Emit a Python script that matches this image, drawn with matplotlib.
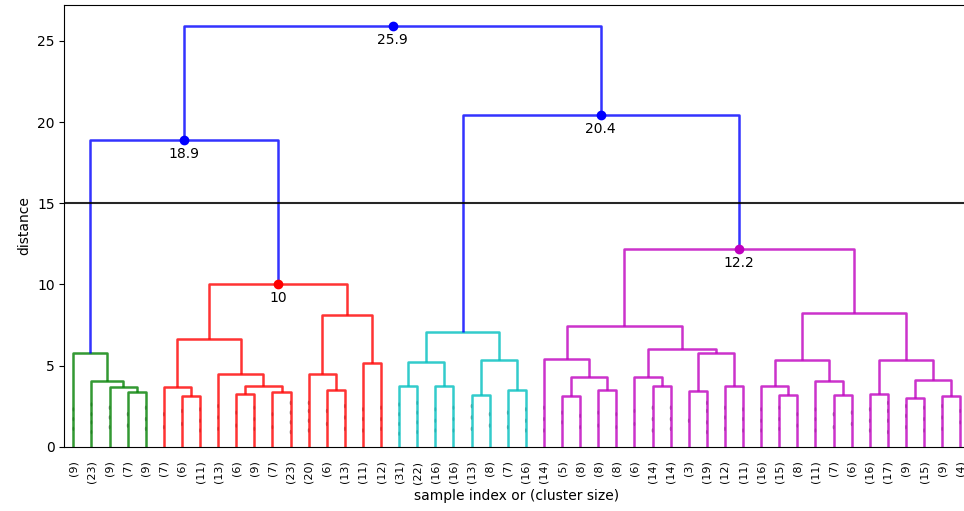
import matplotlib
matplotlib.use("Agg")
import matplotlib.pyplot as plt
from matplotlib.patches import Ellipse

# cluster sizes of the 50 shown (truncated) leaves, left to right
leaf_sizes = [9, 23, 9, 7, 9, 7, 6, 11, 13, 6, 9, 7, 23, 20, 6, 13, 11, 12,
              31, 22, 16, 16, 13, 8, 7, 16, 14, 5, 8, 8, 8, 6, 14, 14, 3, 19,
              12, 11, 16, 15, 8, 11, 7, 6, 16, 17, 9, 15, 9, 4]

# linkage rows: (left id, right id, distance); new clusters get ids 50, 51, ...
merges = [
    (3, 4, 3.38), (2, 50, 3.66), (1, 51, 4.07), (0, 52, 5.78),
    (6, 7, 3.15), (5, 54, 3.66), (9, 10, 3.27), (11, 12, 3.38),
    (56, 57, 3.77), (8, 58, 4.49), (55, 59, 6.66), (14, 15, 3.48),
    (13, 61, 4.49), (16, 17, 5.16), (62, 63, 8.14), (60, 64, 10.02),
    (18, 19, 3.72), (20, 21, 3.72), (66, 67, 5.23), (22, 23, 3.21),
    (24, 25, 3.52), (69, 70, 5.33), (68, 71, 7.07),
    (27, 28, 3.11), (29, 30, 3.52), (73, 74, 4.29), (26, 75, 5.43),
    (32, 33, 3.72), (31, 77, 4.29), (34, 35, 3.46), (36, 37, 3.77),
    (79, 80, 5.78), (78, 81, 5.99), (76, 82, 7.41),
    (39, 40, 3.21), (38, 84, 3.77), (42, 43, 3.21), (41, 86, 4.07),
    (85, 87, 5.37), (44, 45, 3.25), (46, 47, 3.0), (48, 49, 3.1),
    (90, 91, 4.14), (89, 92, 5.37), (88, 93, 8.25), (83, 94, 12.2),
    (53, 65, 18.9), (72, 95, 20.42), (96, 97, 25.92),
]

# heights of the merges hidden inside each truncated leaf
contraction_heights = [
    [1.1, 1.7, 2.3], [0.9, 1.5, 2.0, 2.6], [1.2, 1.8, 2.4], [1.3, 2.0], [1.1, 1.7, 2.4],
    [1.2, 2.0], [1.4, 2.2], [1.0, 1.6, 2.3], [1.1, 1.8, 2.5], [1.3, 2.1],
    [1.1, 1.7, 2.4], [1.2, 2.0], [0.9, 1.5, 2.1, 2.7], [1.0, 1.6, 2.2, 2.7], [1.4, 2.2],
    [1.1, 1.8, 2.5], [1.0, 1.7, 2.3], [1.1, 1.7, 2.4], [0.8, 1.4, 2.0, 2.6], [0.9, 1.5, 2.1, 2.7],
    [1.0, 1.6, 2.3], [1.0, 1.7, 2.4], [1.1, 1.8, 2.5], [1.3, 2.0], [1.2, 2.1],
    [1.0, 1.6, 2.3], [1.0, 1.7, 2.4], [1.5, 2.1], [1.2, 1.9], [1.3, 2.1],
    [1.2, 2.0], [1.4, 2.2], [1.0, 1.7, 2.4], [1.1, 1.7, 2.4], [1.6],
    [0.9, 1.5, 2.2, 2.7], [1.1, 1.8, 2.4], [1.0, 1.7, 2.3], [1.0, 1.6, 2.3], [1.1, 1.7, 2.4],
    [1.3, 2.0], [1.0, 1.7, 2.3], [1.2, 2.0], [1.4, 2.1], [1.0, 1.6, 2.3],
    [0.9, 1.6, 2.2, 2.7], [1.2, 1.9, 2.5], [1.0, 1.7, 2.4], [1.1, 1.8, 2.5], [1.5, 2.2],
]

palette = ["g", "r", "c", "m"]
above_color = "b"
color_threshold = 0.7 * max(h for _, _, h in merges)
annotate_above = 10
max_d = 15

n = len(leaf_sizes)
x_of = {i: 5 + 10 * i for i in range(n)}
h_of = {i: 0.0 for i in range(n)}
children = {}
for k, (a, b, h) in enumerate(merges):
    node = n + k
    children[node] = (a, b)
    x_of[node] = (x_of[a] + x_of[b]) / 2
    h_of[node] = h
root = n + len(merges) - 1

link_color = {}


def paint(node, color):
    if node in children:
        link_color[node] = color
        for c in children[node]:
            paint(c, color)


color_idx = [0]


def assign(node):
    if node not in children:
        return
    if h_of[node] < color_threshold:
        paint(node, palette[color_idx[0] % len(palette)])
        color_idx[0] += 1
    else:
        link_color[node] = above_color
        for c in children[node]:
            assign(c)


assign(root)

fig = plt.figure(figsize=(9.64, 5.11), dpi=100)
ax = fig.add_axes([64.3 / 964, 64.3 / 511, 905 / 964, 441.7 / 511])

for node, (a, b) in children.items():
    xs = [x_of[a], x_of[a], x_of[b], x_of[b]]
    ys = [h_of[a], h_of[node], h_of[node], h_of[b]]
    ax.plot(xs, ys, color=link_color[node], lw=1.8, alpha=0.8, solid_capstyle="butt")

# contraction marks, like scipy's show_contracted
dvw = max(h_of.values()) * 1.05
for i, hs in enumerate(contraction_heights):
    for y in hs:
        e = Ellipse((x_of[i], y), width=1.0, height=dvw / 100)
        e.set_alpha(0.4)
        e.set_facecolor("k")
        e.set_edgecolor("none")
        ax.add_artist(e)

# annotate the big merges
for node in children:
    y = h_of[node]
    if y > annotate_above:
        x = x_of[node]
        ax.plot(x, y, "o", color=link_color[node])
        ax.annotate("%.3g" % y, (x, y), xytext=(0, -5),
                    textcoords="offset points", va="top", ha="center")

ax.axhline(y=max_d, c="k", lw=1.5, alpha=0.85)

ax.set_xlim(0, 10 * n)
ax.set_ylim(0, dvw)
ax.set_xticks([x_of[i] for i in range(n)])
ax.set_xticklabels(["(%d)" % s for s in leaf_sizes], rotation=90, size=8)
ax.tick_params(axis="x", length=0, pad=10)
ax.set_xlabel("sample index or (cluster size)")
ax.set_ylabel("distance")

fig.savefig("out.png", dpi=100)
